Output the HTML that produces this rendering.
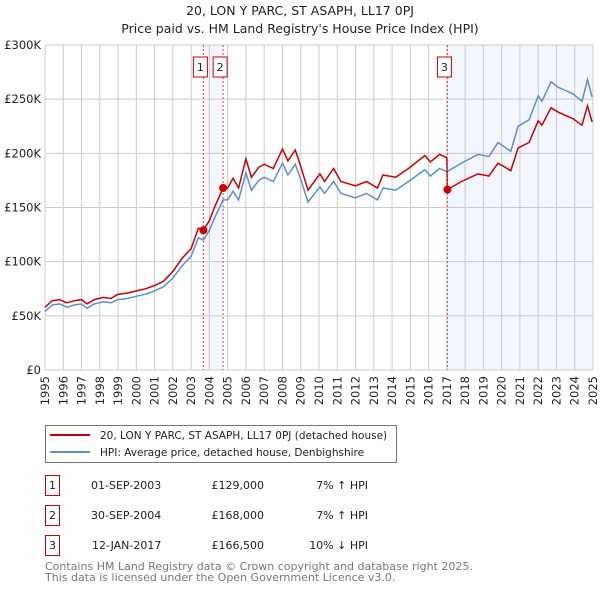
<!DOCTYPE html>
<html><head><meta charset="utf-8"><style>
body{margin:0;background:#fff;font-family:"DejaVu Sans","Liberation Sans",sans-serif;}
svg text{font-family:"DejaVu Sans","Liberation Sans",sans-serif;}
</style></head><body>
<svg id="chart" width="600" height="590" viewBox="0 0 600 590" xmlns="http://www.w3.org/2000/svg">
<text x="300" y="15" font-size="12.5" text-anchor="middle" fill="#222">20, LON Y PARC, ST ASAPH, LL17 0PJ</text>
<text x="300" y="33" font-size="12.5" text-anchor="middle" fill="#222">Price paid vs. HM Land Registry's House Price Index (HPI)</text>
<g id="shade"></g><g id="grid"></g><g id="axes"></g><g id="series"></g><g id="marks"></g>
<g>
<rect x="45.5" y="425.5" width="351" height="37" fill="#fff" stroke="#777"/>
<line x1="50" y1="435" x2="90" y2="435" stroke="#cc0000" stroke-width="2"/>
<text x="100" y="439" font-size="10.5" fill="#222">20, LON Y PARC, ST ASAPH, LL17 0PJ (detached house)</text>
<line x1="50" y1="452" x2="90" y2="452" stroke="#5b8fd0" stroke-width="2"/>
<text x="100" y="456" font-size="10.5" fill="#222">HPI: Average price, detached house, Denbighshire</text>
</g>
<g font-size="11" fill="#222">
<rect x="45.5" y="475.5" width="14" height="20" fill="#fff" stroke="#cc0000"/><text x="52.5" y="489" text-anchor="middle">1</text>
<text x="91" y="489">01-SEP-2003</text><text x="264" y="489" text-anchor="end">£129,000</text><text x="368" y="489" text-anchor="end">7% ↑ HPI</text>
<rect x="45.5" y="505.5" width="14" height="20" fill="#fff" stroke="#cc0000"/><text x="52.5" y="519" text-anchor="middle">2</text>
<text x="91" y="519">30-SEP-2004</text><text x="264" y="519" text-anchor="end">£168,000</text><text x="368" y="519" text-anchor="end">7% ↑ HPI</text>
<rect x="45.5" y="535.5" width="14" height="20" fill="#fff" stroke="#cc0000"/><text x="52.5" y="549" text-anchor="middle">3</text>
<text x="92" y="549">12-JAN-2017</text><text x="264" y="549" text-anchor="end">£166,500</text><text x="368" y="549" text-anchor="end">10% ↓ HPI</text>
</g>
<text x="45" y="570" font-size="11" fill="#777">Contains HM Land Registry data © Crown copyright and database right 2025.</text>
<text x="45" y="581" font-size="11" fill="#777">This data is licensed under the Open Government Licence v3.0.</text>
</svg>
<script>
const hpiYears=[1995.0,1995.4,1995.8,1996.2,1996.6,1997.0,1997.3,1997.7,1998.2,1998.6,1999.0,1999.5,2000.0,2000.5,2001.0,2001.5,2002.0,2002.5,2003.0,2003.4,2003.67,2004.0,2004.3,2004.75,2005.0,2005.3,2005.6,2006.0,2006.3,2006.7,2007.0,2007.5,2008.0,2008.3,2008.7,2009.0,2009.4,2010.05,2010.3,2010.8,2011.2,2012.0,2012.6,2013.2,2013.5,2014.2,2014.9,2015.8,2016.1,2016.6,2017.0,2017.8,2018.7,2019.3,2019.8,2020.5,2020.9,2021.5,2022.0,2022.2,2022.7,2023.1,2023.5,2023.9,2024.4,2024.7,2024.95];
const hpiValues=[54,60,61,58,60,61,57,61,63,62,65,66,68,70,73,77,85,96,105,122,120,129,141,157,157,165,157,182,166,175,178,174,191,180,190,176,155,169,163,174,163,159,163,157,168,166,174,185,179,186,183,191,199,197,210,202,225,231,253,248,266,261,258,255,248,268,252];
const priceYears=[1995.0,1995.4,1995.8,1996.2,1996.6,1997.0,1997.3,1997.7,1998.2,1998.6,1999.0,1999.5,2000.0,2000.5,2001.0,2001.5,2002.0,2002.5,2003.0,2003.4,2003.67,2004.0,2004.3,2004.75,2005.0,2005.3,2005.6,2006.0,2006.3,2006.7,2007.0,2007.5,2008.0,2008.3,2008.7,2009.0,2009.4,2010.05,2010.3,2010.8,2011.2,2012.0,2012.6,2013.2,2013.5,2014.2,2014.9,2015.8,2016.1,2016.6,2017.0,2017.03,2017.8,2018.7,2019.3,2019.8,2020.5,2020.9,2021.5,2022.0,2022.2,2022.7,2023.1,2023.5,2023.9,2024.4,2024.7,2024.95];
const priceValues=[58,64,65,62,64,65,61,65,67,66,70,71,73,75,78,82,91,103,112,131,129,138,151,168,168,177,168,195,178,187,190,186,204,193,203,188,166,181,174,186,174,170,174,168,180,178,186,198,192,199,196,166.5,174,181,179,191,184,205,210,230,226,242,238,235,232,226,244,229];
const saleLabels=["1","2","3"];
const saleYears=[2003.67,2004.75,2017.03];
const saleValues=[129,168,166.5];
const yTicks=[0,50,100,150,200,250,300];
const yTickLabels=["£0","£50K","£100K","£150K","£200K","£250K","£300K"];
const xTicks=[1995,1996,1997,1998,1999,2000,2001,2002,2003,2004,2005,2006,2007,2008,2009,2010,2011,2012,2013,2014,2015,2016,2017,2018,2019,2020,2021,2022,2023,2024,2025];

const X0=45,X1=593,Y0=370,Y1=45;
const xs=y=>X0+(y-1995)/30*(X1-X0);
const ys=v=>Y0-v/300*(Y0-Y1);
const NS="http://www.w3.org/2000/svg";
function mk(tag,attrs,parent){const e=document.createElementNS(NS,tag);for(const k in attrs)e.setAttribute(k,attrs[k]);document.getElementById(parent).appendChild(e);return e;}

let r=mk('rect',{x:xs(saleYears[0]),y:Y1,width:xs(saleYears[1])-xs(saleYears[0]),height:Y0-Y1,fill:'#eef2fb',opacity:0.7},'shade');


r=mk('rect',{x:xs(saleYears[2]),y:Y1,width:X1-xs(saleYears[2]),height:Y0-Y1,fill:'#eef2fb',opacity:0.7},'shade');



xTicks.forEach(t=>{
 const l=mk('line',{x1:xs(t),x2:xs(t),y1:Y1,y2:Y0,stroke:'#cccccc','stroke-width':1},'grid');
 
 
 const tx=mk('text',{x:0,y:0,'font-size':11.5,fill:'#222','text-anchor':'end',transform:`translate(${xs(t)+4},${Y0+6}) rotate(-90)`},'axes');
 tx.textContent=String(t);
 
 
});
yTicks.forEach((t,i)=>{
 const l=mk('line',{x1:X0,x2:X1,y1:ys(t),y2:ys(t),stroke:'#cccccc','stroke-width':1},'grid');
 
 
 const tx=mk('text',{x:X0-4,y:ys(t)+4,'font-size':11.5,fill:'#222','text-anchor':'end'},'axes');
 tx.textContent=yTickLabels[i];
 
 
});

function path(xa,va){return xa.map((y,i)=>(i?'L':'M')+xs(y).toFixed(1)+','+ys(va[i]).toFixed(1)).join('');}
let p=mk('path',{d:path(hpiYears,hpiValues),fill:'none',stroke:'#5b8fd0','stroke-width':1.5},'series');


p=mk('path',{d:path(priceYears,priceValues),fill:'none',stroke:'#cc0000','stroke-width':1.5},'series');



saleYears.forEach((y,i)=>{
 const l=mk('line',{x1:xs(y),x2:xs(y),y1:Y1,y2:Y0,stroke:'#ee4444','stroke-width':1,'stroke-dasharray':'2,2'},'marks');
 
 
 const c=mk('circle',{cx:xs(y),cy:ys(saleValues[i]),r:4,fill:'#cc0000'},'marks');
 
 
 const bx=xs(y)-3;
 const b=mk('rect',{x:bx-7,y:57,width:14,height:20,fill:'#fff',stroke:'#cc0000'},'marks');
 
 
 const t=mk('text',{x:bx,y:71,'font-size':11,'text-anchor':'middle',fill:'#222'},'marks');
 t.textContent=saleLabels[i];
 
 
});
</script>
</body></html>
